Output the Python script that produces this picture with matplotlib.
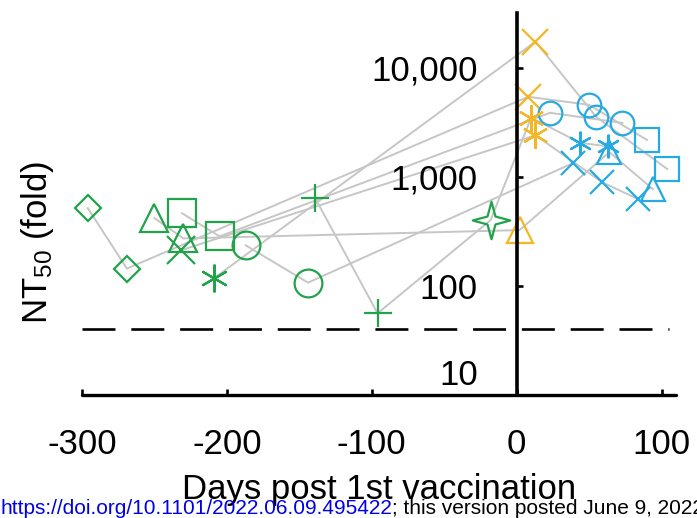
import numpy as np
import matplotlib.pyplot as plt
from matplotlib.path import Path

plt.rcParams['font.family'] = ['Liberation Sans', 'DejaVu Sans']
plt.rcParams['mathtext.default'] = 'regular'

# one subject per block: days post 1st vaccination, NT50, marker code per sample
s1_days = [-296, -269, 8, 50, 90]
s1_nt50 = [515, 144, 5400, 4560, 2170]
s1_mark = ['D', 'D', 'x', 'o', 's']

s2_days = [-232, 13, 59, 84]
s2_nt50 = [211, 2400, 890, 622]
s2_mark = ['x', 'ast', 'x', 'x']

s3_days = [-209, 13, 55, 104]
s3_nt50 = [117, 17300, 3530, 1175]
s3_mark = ['ast', 'x', 'o', 's']

s4_days = [-187, -144, 39]
s4_nt50 = [235, 107, 1335]
s4_mark = ['o', 'o', 'x']

s5_days = [-250, -230, 2, 64, 94]
s5_nt50 = [417, 272, 324, 1680, 770]
s5_mark = ['^', '^', '^', '^', '^']

s6_days = [-231, -205, 23, 73]
s6_nt50 = [463, 284, 3850, 3110]
s6_mark = ['s', 's', 'o', 'o']

s7_days = [-139, -96, -18, 10, 44, 63]
s7_nt50 = [634, 56, 400, 3470, 2040, 1900]
s7_mark = ['+', '+', 'star', 'ast', 'ast', 'ast']

subjects = [(s1_days, s1_nt50, s1_mark), (s2_days, s2_nt50, s2_mark),
            (s3_days, s3_nt50, s3_mark), (s4_days, s4_nt50, s4_mark),
            (s5_days, s5_nt50, s5_mark), (s6_days, s6_nt50, s6_mark),
            (s7_days, s7_nt50, s7_mark)]

cutoff = 40
x_ticks = [-300, -200, -100, 0, 100]
y_ticks = [100, 1000, 10000]
y_labels = ['100', '1,000', '10,000']

green = '#23a24c'
yellow = '#f3b624'
blue = '#27aae1'
grey = '#c6c6c6'

star4 = Path.unit_regular_star(4, 0.3)
markers = {'D': ('D', 0.66), 'x': ('x', 1.0), 'o': ('o', 1.0), 's': ('s', 1.0),
           '^': ('^', 1.0), '+': ('+', 1.0), 'ast': ((6, 2, 0), 1.0),
           'star': (star4, 1.35)}


def phase_style(d):
    if d < 0:
        return green, 20
    if d <= 15:
        return yellow, 19
    return blue, 17


fig = plt.figure(figsize=(6.97, 5.18), dpi=100)
ax = fig.add_axes([82 / 697, 123 / 518, 594 / 697, 382 / 518])
ax.set_yscale('log')
ax.set_xlim(-300, 110)
ax.set_ylim(10, 10 ** 4.5)

# grey lines joining each subject's samples
for days, vals, marks in subjects:
    ax.plot(days, vals, color=grey, lw=1.4, zorder=1, clip_on=False)

# markers
for days, vals, marks in subjects:
    for d, v, m in zip(days, vals, marks):
        c, ms = phase_style(d)
        mk, f = markers[m]
        ax.plot(d, v, marker=mk, ms=ms * f, mec=c, mfc='none', mew=1.6,
                linestyle='none', zorder=3, clip_on=False)

ax.plot([-300, 105], [cutoff, cutoff], color='black', lw=1.9,
        dashes=(12.5, 6), zorder=2, clip_on=False)

for s in ['top', 'right']:
    ax.spines[s].set_visible(False)
ax.spines['left'].set_position(('data', 0))
ax.spines['left'].set_linewidth(2.6)
ax.spines['bottom'].set_linewidth(2.4)
ax.spines['left'].set_zorder(4)
ax.spines['bottom'].set_zorder(4)
ax.spines['bottom'].set_capstyle('round')

ax.set_xticks(x_ticks)
ax.set_xticklabels([str(t) for t in x_ticks])
ax.set_yticks(y_ticks)
ax.set_yticklabels(y_labels)
ax.yaxis.set_minor_locator(plt.NullLocator())
ax.tick_params(axis='both', direction='in', length=4.5, width=1.9,
               labelsize=25, colors='black')
ax.tick_params(axis='y', pad=28)
ax.tick_params(axis='x', pad=24)
ax.annotate('10', xy=(0, 10), xycoords='data', xytext=(-28, 14),
            textcoords='offset points', ha='right', va='center', fontsize=25)

fig.text(379 / 697, 1 - 490 / 518, 'Days post 1st vaccination',
         ha='center', va='center', fontsize=25)
fig.text(38 / 697, 1 - 242 / 518, 'NT$_{50}$ (fold)', rotation=90,
         ha='center', va='center', fontsize=25)

fig.text(0.0, 1 - 508 / 518, 'https://doi.org/10.1101/2022.06.09.495422',
         color='#0000e6', fontsize=15, ha='left', va='center')
fig.text(0.562, 1 - 508 / 518, '; this version posted June 9, 2022.',
         color='black', fontsize=15, ha='left', va='center')

fig.savefig('out.png', dpi=100)
